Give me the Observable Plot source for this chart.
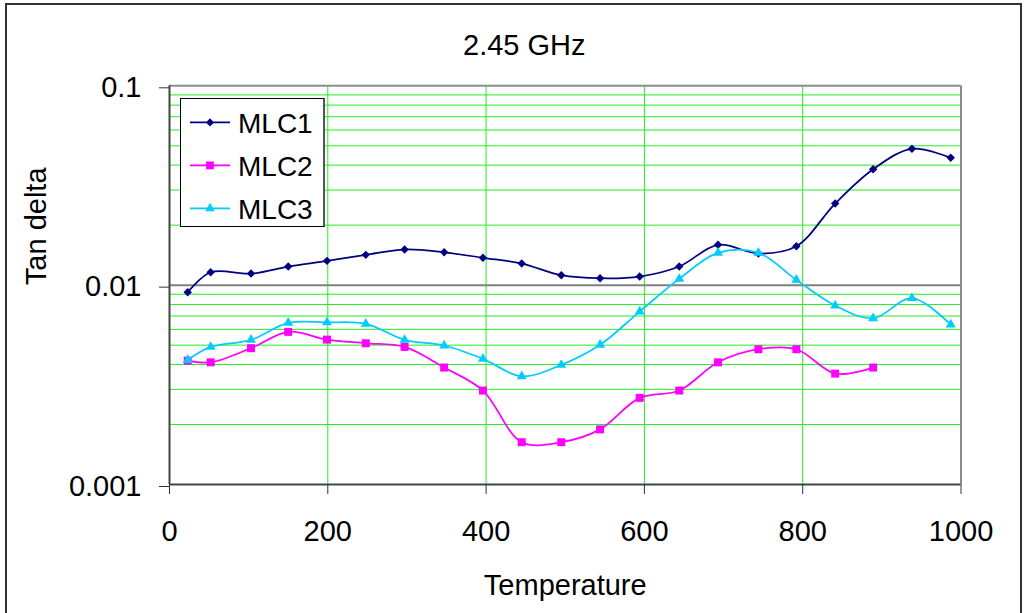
<!DOCTYPE html>
<html><head><meta charset="utf-8">
<script src="https://cdn.jsdelivr.net/npm/d3@7"></script>
<script src="https://cdn.jsdelivr.net/npm/@observablehq/plot@0.6"></script>
<style>
html,body{margin:0;padding:0;overflow:hidden;background:#fff;}
#wrap{position:relative;width:1028px;height:613px;font-family:"Liberation Sans",Arial,sans-serif;}
#chart{position:absolute;left:0;top:0;}
#border{position:absolute;left:5px;top:3px;width:1017px;height:700px;border:2px solid #333;box-sizing:border-box;pointer-events:none;}
#legend{position:absolute;left:180px;top:98px;width:145px;height:129px;border:1px solid #000;border-right:2px solid #555;background:#fff;box-sizing:border-box;}
</style></head>
<body><div id="wrap"><div id="chart"></div><div id="legend"></div><div id="border"></div></div>
<script>
// Temperature points
const temperature = [23, 52, 103, 150, 199, 248, 297, 347, 396, 445, 495, 544, 594, 644, 693, 744, 792, 841, 889, 938, 987];
const mlc1 = [0.00921, 0.01161, 0.01143, 0.01240, 0.01324, 0.01419, 0.01509, 0.01462, 0.01371, 0.01283, 0.01122, 0.01083, 0.01104, 0.01240, 0.01593, 0.01441, 0.01568, 0.02567, 0.03815, 0.04829, 0.04352];
const mlc2 = [0.00418, 0.00410, 0.00483, 0.00583, 0.00533, 0.00511, 0.00490, 0.00386, 0.00296, 0.00163, 0.00163, 0.00189, 0.00272, 0.00296, 0.00410, 0.00477, 0.00477, 0.00360, 0.00386];
const mlc3 = [0.00421, 0.00490, 0.00532, 0.00647, 0.00650, 0.00640, 0.00532, 0.00498, 0.00427, 0.00349, 0.00398, 0.00502, 0.00737, 0.01075, 0.01452, 0.01452, 0.01063, 0.00790, 0.00682, 0.00860, 0.00634];

const seriesNames = ["MLC1", "MLC2", "MLC3"];
const seriesColors = ["#000080", "#FF00FF", "#00CCFF"];
const seriesSymbols = ["diamond2", "square", "triangle"];
const seriesR = [3.8, 4.5, 3.7];

const xTicks = [0, 200, 400, 600, 800, 1000];
const xGrid = [200, 400, 600, 800];
const yTicks = [0.001, 0.01, 0.1];
const yMinor = [0.002, 0.003, 0.004, 0.005, 0.006, 0.007, 0.008, 0.009, 0.02, 0.03, 0.04, 0.05, 0.06, 0.07, 0.08, 0.09];

const titleText = "2.45 GHz";
const xLabel = "Temperature";
const yLabel = "Tan delta";

const seriesValues = [mlc1, mlc2, mlc3];
const rows = [];
seriesValues.forEach((vals, i) => vals.forEach((v, j) => rows.push({series: seriesNames[i], t: temperature[j], v})));

const font = "'Liberation Sans', Arial, sans-serif";

const seriesMarks = [];
seriesNames.forEach((name, i) => {
  const d = rows.filter(r => r.series === name);
  seriesMarks.push(Plot.line(d, {x: "t", y: "v", stroke: seriesColors[i], strokeWidth: 1.75, curve: "catmull-rom"}));
  seriesMarks.push(Plot.dot(d, {x: "t", y: "v", symbol: () => seriesSymbols[i], fill: seriesColors[i], stroke: "none", r: seriesR[i]}));
});

const chart = Plot.plot({
  width: 1028,
  height: 613,
  marginLeft: 169,
  marginRight: 67.5,
  marginTop: 85.3,
  marginBottom: 129,
  style: {fontFamily: font, background: "transparent", color: "#000"},
  x: {domain: [0, 1000]},
  y: {type: "log", domain: [0.001, 0.1]},
  symbol: {type: "identity"},
  marks: [
    Plot.ruleY(yMinor, {stroke: "#22ee22", strokeWidth: 1}),
    Plot.ruleX(xGrid, {stroke: "#22ee22", strokeWidth: 1}),
    Plot.ruleY([0.01], {stroke: "#808080", strokeWidth: 2}),
    Plot.ruleY([0.1], {stroke: "#8c8c8c", strokeWidth: 2}),
    Plot.ruleX([1000], {stroke: "#8c8c8c", strokeWidth: 2}),
    Plot.ruleX([0], {stroke: "#444", strokeWidth: 2}),
    Plot.ruleY([0.001], {stroke: "#444", strokeWidth: 2}),
    Plot.axisX({ticks: xTicks, tickSize: 10, tickPadding: 26.4, tickFormat: d => String(d), fontSize: 29, stroke: "#333", label: null}),
    Plot.axisY({ticks: yTicks, tickSize: 10, tickPadding: 18, tickFormat: d => String(d), fontSize: 29, dy: 2, stroke: "#333", label: null}),
    ...seriesMarks,
    Plot.text([titleText], {text: d => d, frameAnchor: "top", dx: -41, dy: -40.3, fontSize: 29, lineAnchor: "middle"}),
    Plot.text([xLabel], {text: d => d, frameAnchor: "bottom", dy: 101.7, fontSize: 29, lineAnchor: "middle"}),
    Plot.text([yLabel], {text: d => d, frameAnchor: "left", dx: -132.3, rotate: -90, fontSize: 29, lineAnchor: "middle"})
  ]
});
document.getElementById("chart").appendChild(chart);

// Legend
const lg = d3.select("#legend").append("svg").attr("width", 143).attr("height", 127).style("display", "block");
const symMap = {diamond2: d3.symbolDiamond2, square: d3.symbolSquare, triangle: d3.symbolTriangle};
const symSize = {diamond2: 42, square: 60, triangle: 40};
seriesNames.forEach((name, i) => {
  const y = 23.4 + i * 43;
  const g = lg.append("g");
  g.append("line").attr("x1", 9).attr("x2", 49).attr("y1", y).attr("y2", y).attr("stroke", seriesColors[i]).attr("stroke-width", 1.75);
  g.append("path").attr("d", d3.symbol(symMap[seriesSymbols[i]], symSize[seriesSymbols[i]])()).attr("transform", `translate(29,${y})`).attr("fill", seriesColors[i]);
  g.append("text").attr("x", 57).attr("y", y + 10.6).attr("font-size", 28).attr("font-family", font).attr("fill", "#000").text(name);
});
</script>
</body></html>
